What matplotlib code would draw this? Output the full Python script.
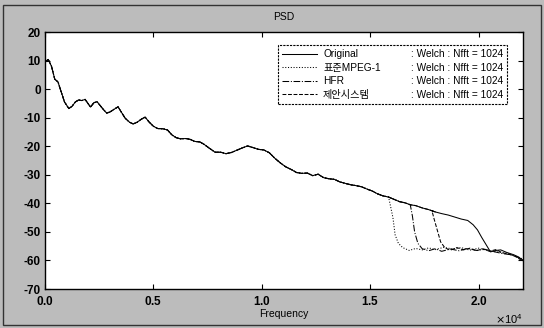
import matplotlib
matplotlib.use('Agg')
import matplotlib.pyplot as plt
from matplotlib.lines import Line2D
from matplotlib.patches import Rectangle

plt.rcParams['font.family'] = ['Liberation Sans', 'Noto Sans CJK KR', 'DejaVu Sans']
plt.rcParams['axes.unicode_minus'] = False

# original spectrum (Hz, dB)
orig_f = [0, 150, 300, 450, 600, 750, 900, 1100, 1250, 1400, 1550, 1700, 1850, 2000,
          2100, 2250, 2400, 2550, 2700, 2850, 3000, 3200, 3370, 3500, 3700, 3900, 4070,
          4250, 4450, 4620, 4800, 5000, 5200, 5450, 5650, 5850, 6050, 6250, 6500, 6700,
          6900, 7150, 7350, 7600, 7850, 8100, 8350, 8600, 8850, 9100, 9350, 9600, 9850,
          10100, 10350, 10600, 10850, 11100, 11350, 11600, 11850, 12100, 12350, 12600,
          12850, 13100, 13350, 13600, 13850, 14100, 14350, 14600, 14850, 15100, 15350,
          15600, 15850, 16100, 16350, 16600, 16850, 17100, 17400, 17700, 18000, 18300,
          18600, 18900, 19200, 19500, 19750, 19950, 20150, 20350, 20550, 20800, 21020,
          21300, 21620, 21850, 22050]
orig_db = [9.5, 10.4, 8.0, 3.5, 2.5, -1.0, -4.5, -6.8, -6.0, -4.5, -3.8, -4.0, -3.6, -5.2,
           -6.3, -4.8, -4.4, -5.8, -7.2, -8.4, -8.0, -7.0, -6.2, -7.8, -10.2, -11.6, -12.2,
           -11.6, -10.5, -9.8, -11.5, -13.0, -13.8, -13.9, -14.3, -16.0, -17.0, -17.4, -17.3, -17.6,
           -18.3, -18.5, -19.4, -20.8, -22.1, -22.1, -22.6, -22.2, -21.4, -20.6, -19.9, -20.5, -21.1,
           -21.3, -22.3, -24.2, -25.8, -27.2, -28.1, -29.2, -29.5, -29.4, -30.3, -29.8,
           -31.0, -31.4, -31.6, -32.5, -33.0, -33.5, -33.8, -34.2, -35.0, -35.7, -36.7,
           -37.4, -37.8, -38.6, -39.4, -39.8, -40.5, -40.8, -41.6, -42.2, -43.0, -43.6,
           -44.1, -44.8, -45.5, -46.0, -47.5, -49.3, -52.0, -54.5, -57.0, -56.5, -56.3,
           -57.2, -58.0, -58.8, -60.0]

# standard MPEG-1 (cut near 16 kHz)
mpeg_f = [15850, 16050, 16150, 16300, 16500, 16800, 17100, 17400, 17700, 18000, 18400,
          18800, 19200, 19600, 20000, 20400, 20800, 21200, 21600, 22050]
mpeg_db = [-37.8, -45.0, -51.0, -54.0, -55.5, -56.5, -55.8, -56.3, -55.6, -56.2, -55.4,
           -56.0, -55.5, -56.4, -55.7, -56.5, -57.0, -57.4, -58.2, -59.5]

# HFR (cut near 17 kHz)
hfr_f = [16850, 16950, 17050, 17200, 17400, 17700, 18000, 18300, 18700, 19100, 19500,
         19900, 20300, 20700, 21100, 21500, 21800, 22050]
hfr_db = [-40.5, -44.5, -50.0, -54.0, -55.9, -56.6, -55.9, -56.8, -56.0, -56.6, -55.8,
          -56.5, -56.1, -56.9, -57.6, -58.0, -58.9, -59.8]

# proposed system (cut near 18 kHz)
prop_f = [17850, 17950, 18100, 18250, 18450, 18700, 19000, 19300, 19600, 19900, 20200,
          20500, 20800, 21100, 21400, 21700, 22050]
prop_db = [-42.6, -45.5, -49.5, -53.5, -55.6, -56.4, -55.5, -56.3, -55.7, -56.6, -55.9,
           -56.8, -56.2, -57.3, -57.8, -58.6, -60.3]

labels = ['Original', '표준MPEG-1', 'HFR', '제안시스템']
method = ': Welch : Nfft = 1024'

fig = plt.figure(figsize=(5.44, 3.28), dpi=100, facecolor='#bcbcbc')
ax = fig.add_axes([0.0827, 0.1189, 0.8787, 0.7835])

lw = 0.75
l1, = ax.plot(orig_f, orig_db, color='black', lw=lw, ls='-')
l2, = ax.plot(orig_f[:77] + mpeg_f, orig_db[:77] + mpeg_db, color='black', lw=lw, ls=':')
l3, = ax.plot(orig_f[:81] + hfr_f, orig_db[:81] + hfr_db, color='black', lw=lw, ls='-.')
l4, = ax.plot(orig_f[:85] + prop_f, orig_db[:85] + prop_db, color='black', lw=lw, ls='--')

ax.set_xlim(0, 22050)
ax.set_ylim(-70, 20)
ax.set_xticks([0, 5000, 10000, 15000, 20000])
ax.set_yticks(range(-70, 21, 10))
ax.ticklabel_format(axis='x', style='sci', scilimits=(4, 4), useMathText=True)
ax.xaxis.get_offset_text().set_fontsize(8)
ax.tick_params(direction='in', top=True, right=True, length=3.5, width=0.8,
               labelsize=8.5)
ax.tick_params(axis='x', pad=4)
ax.tick_params(axis='y', pad=3)
for t in ax.get_xticklabels() + ax.get_yticklabels():
    t.set_fontweight('bold')
for s in ax.spines.values():
    s.set_linewidth(1.0)

ax.set_title('PSD', fontsize=7.5, pad=9)
ax.set_xlabel('Frequency', fontsize=7.5, labelpad=1)

blank = [Line2D([], [], ls='none') for _ in labels]
leg = ax.legend([l1, l2, l3, l4] + blank, labels + [method] * 4, ncol=2,
                loc='upper right', bbox_to_anchor=(0.967, 0.949), borderaxespad=0,
                fontsize=7.3, handlelength=3.4, handletextpad=0.6, columnspacing=-1.0,
                labelspacing=0.35, fancybox=False, framealpha=1, edgecolor='black')
leg.get_frame().set_linestyle((0, (2, 1)))
leg.get_frame().set_linewidth(0.8)

fig.patches.append(Rectangle((0.006, 0.008), 0.988, 0.978, transform=fig.transFigure,
                             fill=False, edgecolor='#333333', lw=1.0))

fig.savefig('out.png', dpi=100, facecolor=fig.get_facecolor())
